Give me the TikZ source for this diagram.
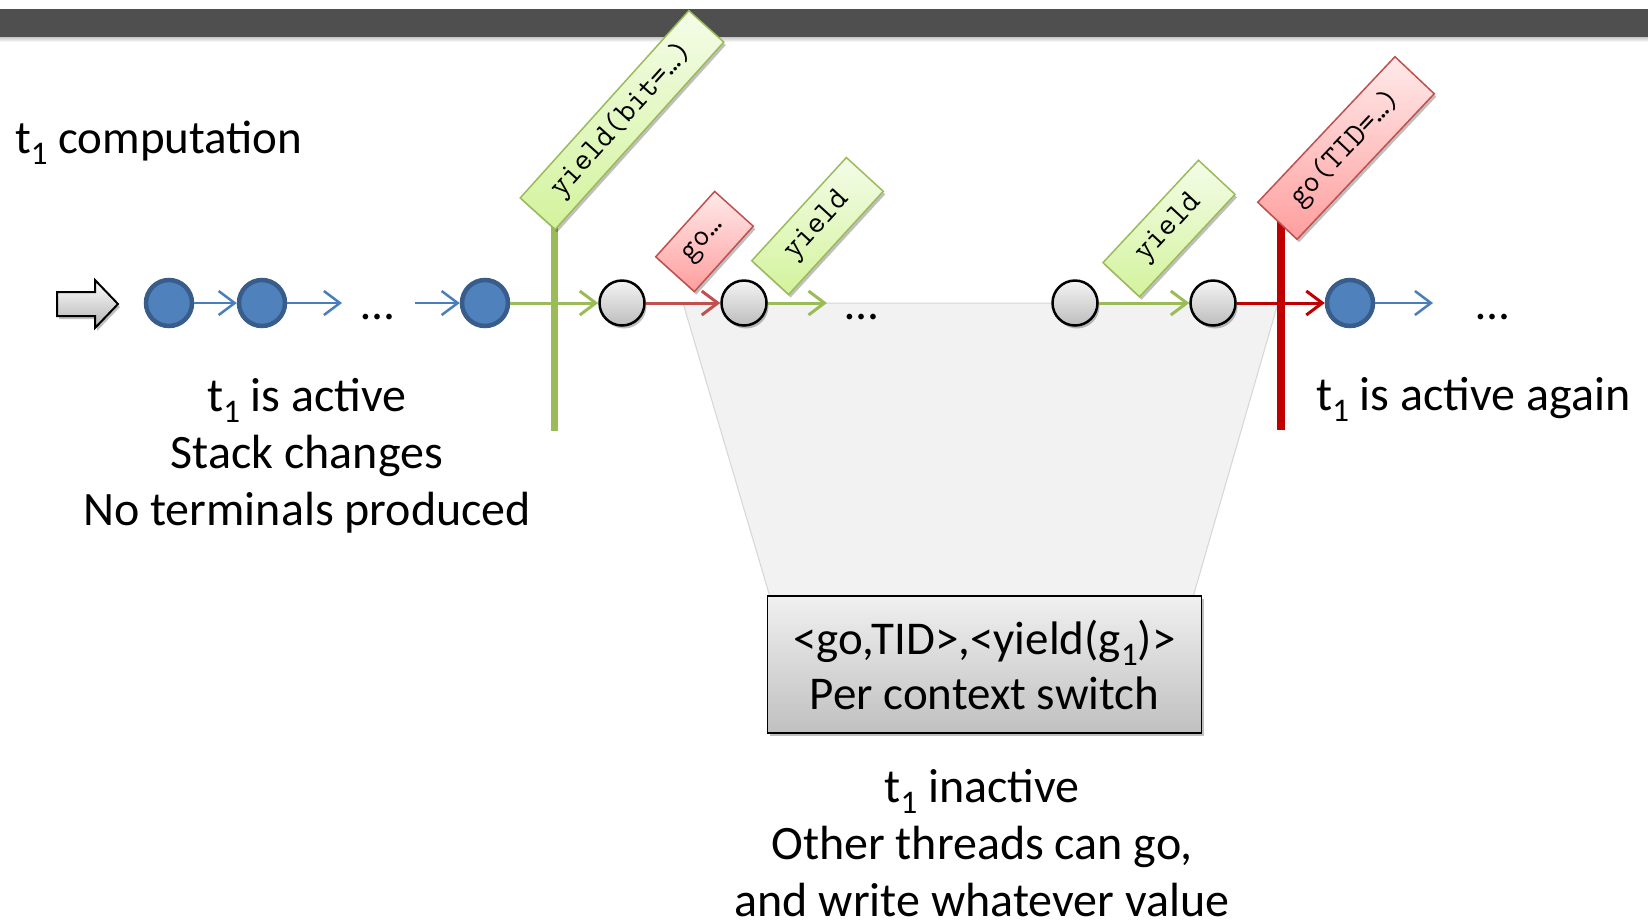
\documentclass[tikz,border=0pt]{standalone}
\usepackage{fontspec}
\setmainfont{Carlito}
\usetikzlibrary{arrows.meta,shadows}

\definecolor{barGray}{HTML}{4F4F4F}
\definecolor{nodeBlue}{HTML}{4F81BD}
\definecolor{nodeBlueEdge}{HTML}{385D8A}
\definecolor{lineBlue}{HTML}{4A7EBB}
\definecolor{lineGreen}{HTML}{9BBB59}
\definecolor{lineRed}{HTML}{C0504D}
\definecolor{strongRed}{HTML}{C00000}
\definecolor{trapFill}{HTML}{F2F2F2}
\definecolor{trapEdge}{HTML}{D6D6D6}
\definecolor{tagGreenLo}{HTML}{F4FCE8}
\definecolor{tagGreenHi}{HTML}{D3F39C}
\definecolor{tagRedLo}{HTML}{FFEAEA}
\definecolor{tagRedHi}{HTML}{FF9E9E}
\definecolor{ballTop}{HTML}{F4F4F4}
\definecolor{ballBottom}{HTML}{BDBDBD}
\definecolor{boxTop}{HTML}{F0F0F0}
\definecolor{boxBottom}{HTML}{C0C0C0}

% lowered thread index, as in t_1
\newcommand\tsub[1]{\raisebox{-11pt}{\fontsize{33}{33}\selectfont #1}}

\tikzset{
  softshadow/.style={drop shadow={shadow xshift=2pt, shadow yshift=-3pt, opacity=0.25, fill=black}},
  activeball/.style={circle, inner sep=0pt, minimum size=46pt, fill=nodeBlue, draw=nodeBlueEdge, line width=4.5pt},
  idleball/.style={circle, inner sep=0pt, minimum size=45pt, draw=black, line width=2.5pt, top color=ballTop, bottom color=ballBottom, softshadow},
  flow/.style={line width=#1, -{Straight Barb[length=16pt,width=24pt]}},
  blueflow/.style={flow=2.5pt, draw=lineBlue},
  greenflow/.style={flow=3pt, draw=lineGreen},
  redflow/.style={flow=3pt, draw=lineRed},
  strongflow/.style={flow=3pt, draw=strongRed},
  tagbox/.style={rectangle, inner sep=0pt, line width=1.5pt, font=\ttfamily\fontsize{32}{32}\selectfont, softshadow},
  greentag/.style={tagbox, draw=lineGreen, top color=tagGreenLo, bottom color=tagGreenHi},
  redtag/.style={tagbox, draw=lineRed, top color=tagRedLo, bottom color=tagRedHi},
  bodytext/.style={font=\fontsize{48}{57}\selectfont, inner sep=0pt, align=center},
  dotsmark/.style={font=\fontsize{47}{47}\selectfont, inner sep=0pt, anchor=base},
  ctxbox/.style={rectangle, draw=black, line width=1.5pt, top color=boxTop, bottom color=boxBottom,
    minimum width=434pt, minimum height=137pt, inner sep=0pt, align=center,
    font=\fontsize{47}{55}\selectfont, softshadow},
  switchbar/.style={line width=#1, line cap=butt},
}

\begin{document}
\begin{tikzpicture}[x=1pt,y=-1pt]
\useasboundingbox (0,0) rectangle (1648,922);
\fill[white] (0,0) rectangle (1648,922);

% title bar with a faint shade below
\fill[barGray] (0,9) rectangle (1648,37);
\shade[top color=black!22, bottom color=white] (0,37) rectangle (1648,42);

% inactive period funnel
\filldraw[fill=trapFill, draw=trapEdge, line width=1pt]
  (683,303) -- (1278,303) -- (1193,597) -- (770,597) -- cycle;

% context-switch bars
\coordinate (gbarTop) at (554,220);
\coordinate (gbarBot) at (554,431);
\coordinate (rbarTop) at (1281,215);
\coordinate (rbarBot) at (1281,430);
\draw[switchbar=7pt, lineGreen] (gbarTop) -- (gbarBot);
\draw[switchbar=8pt, strongRed] (rbarTop) -- (rbarBot);

% entry arrow
\filldraw[draw=black, line width=2pt, top color=white, bottom color=black!30, softshadow]
  (57,292) -- (95,292) -- (95,280) -- (118,304) -- (95,328) -- (95,316) -- (57,316) -- cycle;

% states of the computation
\node[activeball] (b1) at (169,303) {};
\node[activeball] (b2) at (262,303) {};
\node[activeball] (b3) at (485,303) {};
\node[idleball]   (g1) at (622,303) {};
\node[idleball]   (g2) at (744,303) {};
\node[idleball]   (g3) at (1075,303) {};
\node[idleball]   (g4) at (1213,303) {};
\node[activeball] (b4) at (1350,303) {};

\coordinate (e2) at (342,303);
\coordinate (s3) at (415,303);
\coordinate (e5) at (827,303);
\coordinate (e8) at (1433,303);

\draw[blueflow] (b1) -- (b2);
\draw[blueflow] (b2) -- (e2);
\draw[blueflow] (s3) -- (b3);
\draw[greenflow] (b3) -- (g1);
\draw[redflow] (g1) -- (g2);
\draw[greenflow] (g2) -- (e5);
\draw[greenflow] (g3) -- (g4);
\draw[strongflow] (g4) -- (b4);
\draw[blueflow] (b4) -- (e8);

\node[dotsmark] (d1) at (378,319) {…};
\node[dotsmark] (d2) at (862,319) {…};
\node[dotsmark] (d3) at (1493,319) {…};

% scheduler tokens
\node[greentag, minimum width=252pt, minimum height=47pt, rotate=48] (t1) at (622,120) {yield(bit=…)};
\node[redtag, minimum width=88pt, minimum height=52pt, rotate=48] (t2) at (704.5,241.5) {go…};
\node[greentag, minimum width=140pt, minimum height=50pt, rotate=47.5] (t3) at (817.5,226) {yield};
\node[greentag, minimum width=140pt, minimum height=50pt, rotate=47] (t4) at (1169,228.5) {yield};
\node[redtag, minimum width=200pt, minimum height=54pt, rotate=46.7] (t5) at (1346,148) {go(TID=…)};

% output per context switch
\node[ctxbox] (ctx) at (984.5,664.5) {<go,TID>,<yield(g\tsub{1})>\\Per context switch};

% explanations
\node[bodytext, font=\fontsize{47}{57}\selectfont, anchor=base west] (title) at (15,153) {t\tsub{1} computation};
\node[bodytext, anchor=base] (activeText) at (307,525) {t\tsub{1} is active\\Stack changes\\No terminals produced};
\node[bodytext, anchor=base west] (againText) at (1316,410) {t\tsub{1} is active again};
\node[bodytext, anchor=base] (inactiveText) at (982,916) {t\tsub{1} inactive\\Other threads can go,\\and write whatever value};
\end{tikzpicture}
\end{document}
